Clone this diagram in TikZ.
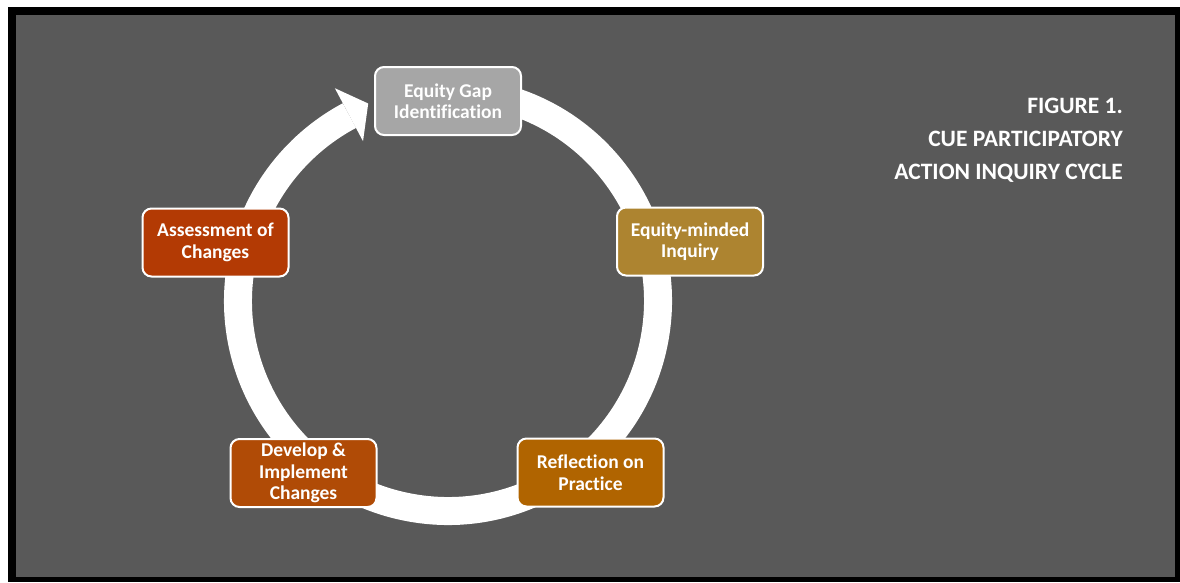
\documentclass[tikz,border=0pt]{standalone}
\usepackage{fontspec}
\setmainfont{Carlito}[Ligatures=NoCommon]
\usepackage{tikz}
\usepackage{xcolor}
\usetikzlibrary{positioning}

\definecolor{slate}{HTML}{595959}
\definecolor{gapgray}{HTML}{A6A6A6}
\definecolor{inqgold}{HTML}{AD8430}
\definecolor{reforange}{HTML}{B06400}
\definecolor{devrust}{HTML}{B04B06}
\definecolor{assred}{HTML}{B33A04}

\begin{document}
\begin{tikzpicture}[x=1pt,y=-1pt]
\tikzset{stagebox/.style={draw=white, line width=2pt, rounded corners=9pt,
  minimum width=146pt, minimum height=68pt, inner sep=1pt, align=center,
  text=white, font=\bfseries\fontsize{19.5}{21.5}\selectfont}}
\useasboundingbox (0,0) rectangle (1180,582);
\fill [white] (0,0) rectangle (1180,582);
\fill [black] (8,7) rectangle (1180,582);
\fill [slate] (16,15) rectangle (1175,577);
% the cycle ring
\coordinate (hub) at (448,301);
\draw [white, line width=28pt] (hub) ++(-80:210) arc [start angle=-80, end angle=242, radius=210];
\fill [white, shift={(hub)}] (-112:213) -- (-118:241) -- (-118:181) -- cycle;
% stages
\node [stagebox, fill=gapgray] (gap) at (448,101) {Equity Gap\\Identification};
\node [stagebox, fill=inqgold] (inquiry) at (690,241.5) {Equity-minded\\Inquiry};
\node [stagebox, fill=reforange] (reflect) at (590.5,472.5) {Reflection on\\Practice};
\node [stagebox, fill=devrust] (develop) at (303.5,473) {Develop \&\\Implement\\Changes};
\node [stagebox, fill=assred] (assess) at (215.5,242.5) {Assessment of\\Changes};
% caption
\node [anchor=north east, align=right, text=white, inner sep=0pt,
  font=\bfseries\fontsize{23.5}{33}\selectfont] (caption) at (1123,98)
  {FIGURE 1.\\CUE PARTICIPATORY\\ACTION INQUIRY CYCLE};
\end{tikzpicture}
\end{document}
